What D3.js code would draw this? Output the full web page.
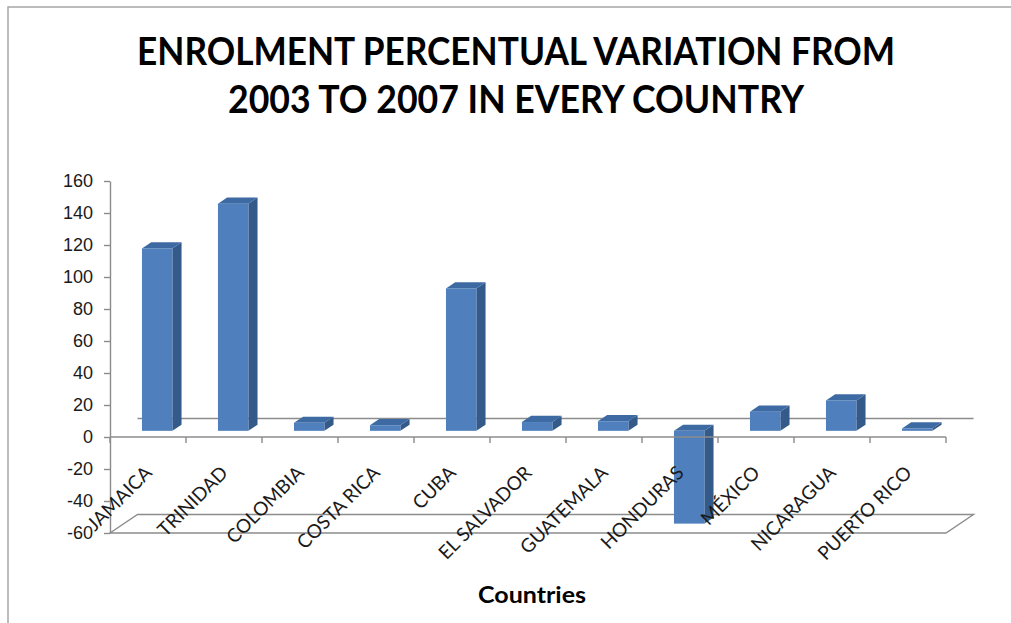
<!DOCTYPE html>
<html>
<head>
<meta charset="utf-8">
<script src="https://cdn.jsdelivr.net/npm/d3@7/dist/d3.min.js"></script>
<style>
  html, body { margin: 0; padding: 0; background: #fff; }
  svg { display: block; }
</style>
</head>
<body>
<svg id="chart" width="1011" height="623"></svg>
<script>
// Enrolment change per country, 2003 -> 2007 (%)
const categories = ["JAMAICA", "TRINIDAD", "COLOMBIA", "COSTA RICA", "CUBA", "EL SALVADOR",
                    "GUATEMALA", "HONDURAS", "MÉXICO", "NICARAGUA", "PUERTO RICO"];
const values = [114, 142, 5, 3.5, 89, 5.5, 6, -58, 12, 19, 1.5];
const yTicks = [-60, -40, -20, 0, 20, 40, 60, 80, 100, 120, 140, 160];
const titleLines = ["ENROLMENT PERCENTUAL VARIATION FROM", "2003 TO 2007 IN EVERY COUNTRY"];
const xTitle = "Countries";

const FONT = "Lato, 'Open Sans', sans-serif";
const NUM_FONT = "'Liberation Sans', Arial, sans-serif";
const svg = d3.select("#chart");

// frame around the chart area
svg.append("rect").attr("x", 8).attr("y", 7).attr("width", 1020).attr("height", 640)
  .attr("fill", "#fff").attr("stroke", "#a6a6a6").attr("stroke-width", 1.5);

// plot geometry (front plane) and the oblique depth of the floor
const x = d3.scaleBand().domain(categories).range([110, 946]).paddingInner(0).paddingOuter(0);
const y = d3.scaleLinear().domain([-60, 160]).range([533, 181]);
const depth = { dx: 27.5, dy: -18.5 };
const grid = "#8c8c8c";

// floor at the minimum value
const yMin = y(-60), y0 = y(0);
const [xl, xr] = x.range();
svg.append("path")
  .attr("d", `M${xl},${yMin} L${xl + depth.dx},${yMin + depth.dy} L${xr + depth.dx},${yMin + depth.dy} L${xr},${yMin} Z`)
  .attr("fill", "none").attr("stroke", grid).attr("stroke-width", 1.4);

// zero line on the back wall
svg.append("line")
  .attr("x1", xl + depth.dx).attr("x2", xr + depth.dx)
  .attr("y1", y0 + depth.dy).attr("y2", y0 + depth.dy)
  .attr("stroke", grid).attr("stroke-width", 1.4);

// 3D columns: front face, side face, top face
const bw = x.bandwidth() / 2.5;
const fx = depth.dx / 3, fy = depth.dy / 3;   // columns sit in the middle third of the depth
const bars = svg.append("g").selectAll("g").data(categories.map((c, i) => ({ c, v: values[i] })))
  .join("g");

bars.each(function (d) {
  const g = d3.select(this);
  const x0 = x(d.c) + (x.bandwidth() - bw) / 2 + fx;
  const top = y(Math.max(d.v, 0)) + fy;
  const bot = y(Math.min(d.v, 0)) + fy;
  const x1 = x0 + bw;
  g.append("path")
    .attr("d", `M${x1},${top} L${x1 + fx},${top + fy} L${x1 + fx},${bot + fy} L${x1},${bot} Z`)
    .attr("fill", "#345a8a");
  g.append("path")
    .attr("d", `M${x0},${top} L${x0 + fx},${top + fy} L${x1 + fx},${top + fy} L${x1},${top} Z`)
    .attr("fill", "#3d6aa3");
  g.append("rect")
    .attr("x", x0).attr("y", top).attr("width", bw).attr("height", Math.max(bot - top, 0.5))
    .attr("fill", "#4f80bd");
});

// value axis
const yAxis = svg.append("g").attr("transform", `translate(${xl},0)`)
  .call(d3.axisLeft(y).tickValues(yTicks).tickFormat(d => String(d))
    .tickSize(6).tickSizeOuter(0).tickPadding(11));
yAxis.select(".domain").attr("stroke", grid).attr("stroke-width", 1.4);
yAxis.selectAll(".tick line").attr("stroke", grid).attr("stroke-width", 1.4);
yAxis.selectAll(".tick text")
  .attr("font-family", NUM_FONT).attr("font-size", 18).attr("fill", "#1a1a1a");

// category axis along the front edge of the zero plane
const xAxis = svg.append("g");
xAxis.append("line").attr("x1", xl).attr("x2", xr).attr("y1", y0).attr("y2", y0)
  .attr("stroke", grid).attr("stroke-width", 1.4);
xAxis.selectAll("line.tick").data(d3.range(categories.length + 1)).join("line")
  .attr("class", "tick")
  .attr("x1", i => xl + i * x.step()).attr("x2", i => xl + i * x.step())
  .attr("y1", y0).attr("y2", y0 + 6)
  .attr("stroke", grid).attr("stroke-width", 1.4);

svg.append("g").selectAll("text").data(categories).join("text")
  .attr("transform", c => `translate(${x(c) + x.bandwidth() / 2 + 5},${474}) rotate(-45)`)
  .attr("text-anchor", "end")
  .attr("font-family", FONT).attr("font-size", 19).attr("fill", "#1a1a1a")
  .text(c => c);

// titles
const titleWidths = [758, 576];
svg.append("g").selectAll("text").data(titleLines).join("text")
  .attr("x", 516).attr("y", (d, i) => 65 + i * 48)
  .attr("text-anchor", "middle")
  .attr("font-family", FONT).attr("font-weight", "bold").attr("font-size", 39)
  .attr("textLength", (d, i) => titleWidths[i]).attr("lengthAdjust", "spacingAndGlyphs")
  .attr("fill", "#000")
  .text(d => d);

svg.append("text")
  .attr("x", 532).attr("y", 603).attr("text-anchor", "middle")
  .attr("font-family", FONT).attr("font-weight", "bold").attr("font-size", 22)
  .attr("textLength", 108).attr("lengthAdjust", "spacingAndGlyphs")
  .attr("fill", "#000")
  .text(xTitle);
</script>
</body>
</html>
